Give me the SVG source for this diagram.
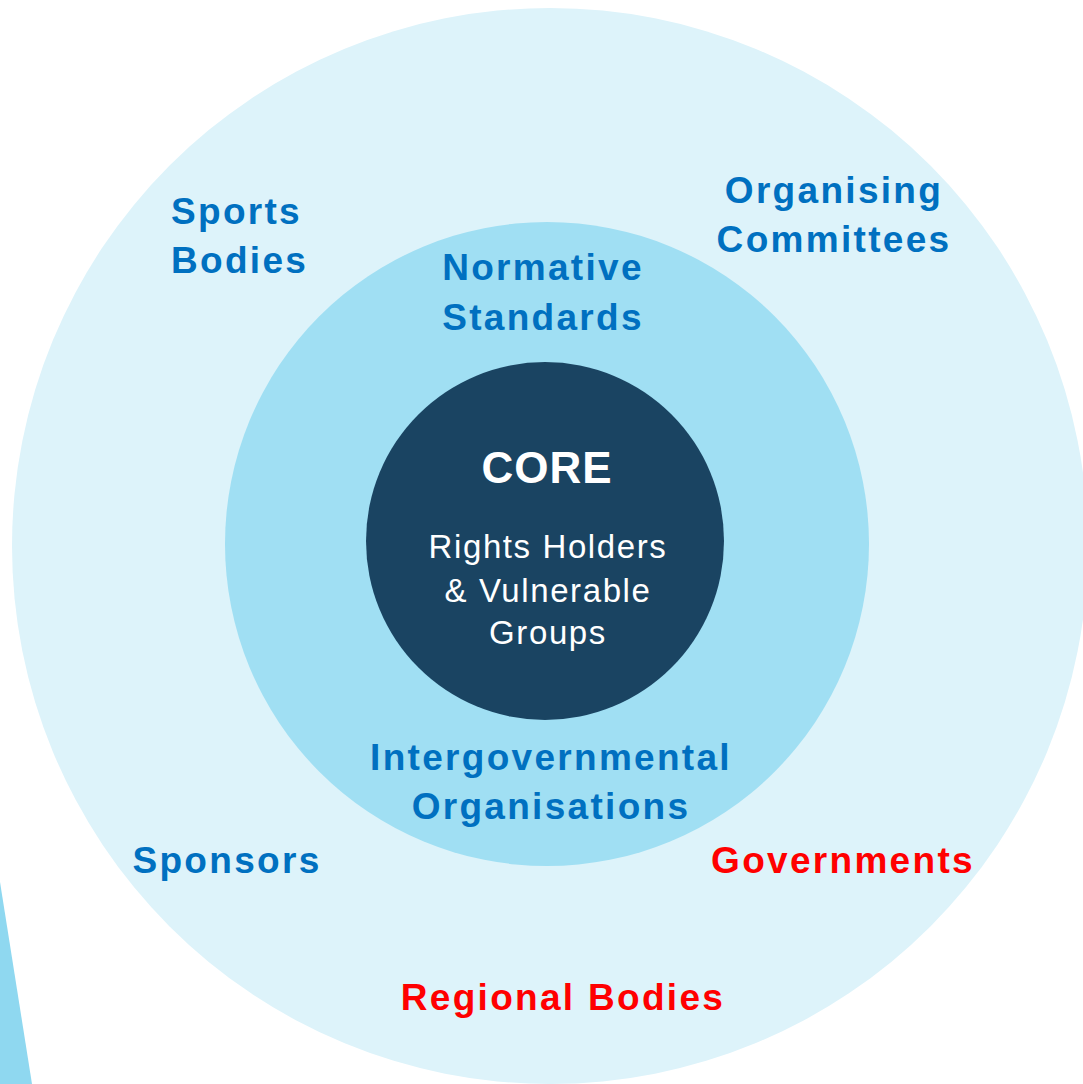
<svg xmlns="http://www.w3.org/2000/svg" width="1083" height="1084" viewBox="0 0 1083 1084">
<style>
.lbl{font-family:"Liberation Sans",Arial,sans-serif;font-weight:bold;font-size:37px;letter-spacing:2.3px;text-anchor:middle}
.blue{fill:#0070C0}
.red{fill:#FF0000}
.core{font-family:"Liberation Sans",Arial,sans-serif;fill:#FFFFFF;text-anchor:middle}
</style>
<rect width="1083" height="1084" fill="#FFFFFF"/>
<polygon points="0,882 32,1084 0,1084" fill="#8FD8F0"/>
<g id="outer-ring">
<circle cx="550" cy="546" r="538" fill="#DDF3FA"/>
</g>
<g id="middle-ring">
<circle cx="547" cy="544" r="322" fill="#A0DFF3"/>
</g>
<g id="core">
<circle cx="545" cy="541" r="179" fill="#1A4462"/>
<text class="core" x="547" y="483" font-size="44" font-weight="bold" letter-spacing="1">CORE</text>
<text class="core" x="548" y="558" font-size="33" letter-spacing="1.6">Rights Holders</text>
<text class="core" x="548" y="602" font-size="33" letter-spacing="1.6">&amp; Vulnerable</text>
<text class="core" x="548" y="644" font-size="33" letter-spacing="1.6">Groups</text>
</g>
<g id="normative-standards">
<text class="lbl blue" x="543" y="280">Normative</text>
<text class="lbl blue" x="543" y="330">Standards</text>
</g>
<g id="intergovernmental-organisations">
<text class="lbl blue" x="551" y="770">Intergovernmental</text>
<text class="lbl blue" x="551" y="819">Organisations</text>
</g>
<g id="sports-bodies">
<text class="lbl blue" x="171" y="224" style="text-anchor:start">Sports</text>
<text class="lbl blue" x="171" y="273" style="text-anchor:start">Bodies</text>
</g>
<g id="organising-committees">
<text class="lbl blue" x="834" y="203">Organising</text>
<text class="lbl blue" x="834" y="252">Committees</text>
</g>
<g id="sponsors">
<text class="lbl blue" x="227" y="873">Sponsors</text>
</g>
<g id="governments">
<text class="lbl red" x="843" y="873">Governments</text>
</g>
<g id="regional-bodies">
<text class="lbl red" x="563" y="1010">Regional Bodies</text>
</g>
<g id="connectors"></g>
</svg>
